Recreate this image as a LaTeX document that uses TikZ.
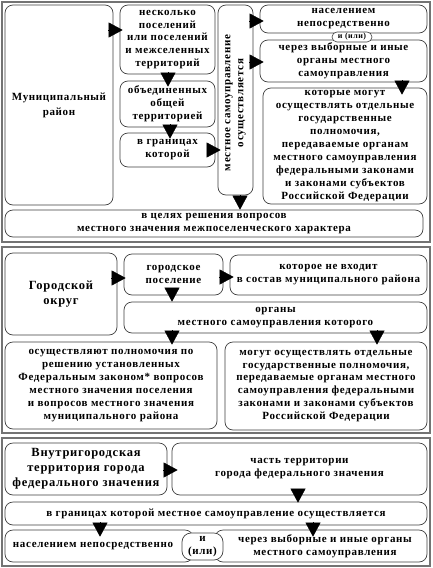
\documentclass[tikz,border=0pt]{standalone}
\usepackage{fontspec}
\setmainfont{Liberation Serif}[LetterSpace=6]
\usetikzlibrary{arrows.meta,calc}
\tikzset{
  box/.style={draw=black!75, line width=0.7pt, rounded corners=8pt, fill=white,
    inner sep=0pt, align=center, text=black,
    font=\fontsize{11}{12.9}\selectfont\bfseries},
  bigbox/.style={box, font=\fontsize{12.5}{15}\selectfont\bfseries},
  tinybox/.style={box, rounded corners=5pt, line width=0.6pt, font=\fontsize{8}{9.5}\selectfont\bfseries},
  panel/.style={draw=black!55, line width=1.2pt},
  tri/.style={-{Triangle[length=14pt,width=15pt]}, line width=0.4pt, black},
}
\begin{document}
\begin{tikzpicture}[x=1pt,y=-1pt]
\useasboundingbox (0,0) rectangle (432,568);
\fill[white] (0,0) rectangle (432,568);
% panels
\draw[panel] (2,2) rectangle (430,242);
\draw[panel] (2,247) rectangle (430,433);
\draw[panel] (2,438) rectangle (430,566);

% ---------- panel 1
\node[bigbox, font=\fontsize{11}{15}\selectfont\bfseries, minimum width=108, minimum height=200] (mr) at (59,105) {Муниципальный\\район};
\node[box, minimum width=95, minimum height=69] (n1) at (167.5,39.5) {несколько\\поселений\\или поселений\\и межселенных\\территорий};
\node[box, minimum width=95, minimum height=46] (n2) at (167.5,104) {объединенных\\общей\\территорией};
\node[box, minimum width=95, minimum height=34] (n3) at (167.5,150) {в границах\\которой};
\node[box, minimum width=35, minimum height=190] (v) at (235.5,100) {};
\node[font=\fontsize{11}{12.9}\selectfont\bfseries, align=center, rotate=90, inner sep=0pt, text=black] (vt) at ($(v.center)+(0,3)$) {местное самоуправление\\осуществляется};
\node[box, minimum width=167, minimum height=28] (p1) at (343.5,19) {населением\\непосредственно};
\node[box, minimum width=167, minimum height=42] (p2) at (343.5,61) {через выборные и иные\\органы местного\\самоуправления};
\node[tinybox, minimum width=40, minimum height=10] (ili) at (352,37) {и (или)};
\node[box, minimum width=164, minimum height=116] (p3) at (345,146) {которые могут\\осуществлять отдельные\\государственные\\полномочия,\\передаваемые органам\\местного самоуправления\\федеральными законами\\и законами субъектов\\Российской Федерации};
\node[box, minimum width=418, minimum height=27] (cel) at (214,223.5) {в целях решения вопросов\\местного значения межпоселенческого характера};

\draw[tri] ($(mr.east)+(-5,-75)$) -- ($(n1.west)+(3,-9.5)$);
\draw[tri] ($(n1.south)+(0.5,-2)$) -- ($(n2.north)+(0.5,6)$);
\draw[tri] ($(n2.south)+(2.5,-3)$) -- ($(n3.north)+(2.5,6)$);
\draw[tri] ($(n3.east)+(-8,0)$) -- ($(v.west)+(3,50)$);
\draw[tri] ($(v.east)+(-4,-79)$) -- ($(p1.west)+(4,2)$);
\draw[tri] ($(v.east)+(-4,-38)$) -- ($(p2.west)+(4,1)$);
\draw[tri] ($(p2.south)+(58.5,-2)$) -- ($(p3.north)+(57,7)$);
\draw[tri] ($(v.south)+(4.5,0)$) -- ($(cel.north)+(26,0)$);

% ---------- panel 2
\node[bigbox, minimum width=112, minimum height=82] (go) at (61,294) {Городской\\округ};
\node[box, minimum width=99, minimum height=41] (gp) at (173.5,274.5) {городское\\поселение};
\node[box, minimum width=197, minimum height=40] (kn) at (328.5,275) {которое не входит\\в состав муниципального района};
\node[box, minimum width=303, minimum height=31] (org) at (275.5,317.5) {органы\\местного самоуправления которого};
\node[box, minimum width=212, minimum height=87] (osu) at (111,385.5) {осуществляют полномочия по\\решению установленных\\Федеральным законом* вопросов\\местного значения поселения\\и вопросов местного значения\\муниципального района};
\node[box, minimum width=202, minimum height=88] (mog) at (326,386) {могут осуществлять отдельные\\государственные полномочия,\\передаваемые органам местного\\самоуправления федеральными\\законами и законами субъектов\\Российской Федерации};

\draw[tri] ($(go.east)+(-6,-16)$) -- ($(gp.west)+(2,3.5)$);
\draw[tri] ($(gp.south)+(-1.5,-7)$) -- ($(org.north)+(-103.5,0)$);
\draw[tri] ($(gp.east)+(-4,2.5)$) -- ($(kn.west)+(4,2)$);
\draw[tri] ($(org.south)+(-103.5,-3)$) -- ($(osu.north)+(61,3)$);
\draw[tri] ($(org.south)+(101.5,-3)$) -- ($(mog.north)+(51,3)$);

% ---------- panel 3
\node[bigbox, minimum width=162, minimum height=52] (vg) at (86,469) {Внутригородская\\территория города\\федерального значения};
\node[box, minimum width=255, minimum height=52] (ch) at (299.5,469) {часть территории\\города федерального значения};
\node[box, minimum width=422, minimum height=23] (gr) at (216,513.5) {в границах которой местное самоуправление осуществляется};
\node[box, minimum width=188, minimum height=32] (nas) at (99,546) {населением непосредственно\hspace*{12pt}};
\node[box, minimum width=212, minimum height=32] (cv) at (321,546) {\hspace*{8pt}через выборные и иные органы\\\hspace*{8pt}местного самоуправления};
\node[box, rounded corners=9pt, minimum width=41, minimum height=27] (ili2) at (202.5,546.5) {и\\(или)};

\draw[tri] ($(vg.east)+(-4,1)$) -- ($(ch.west)+(6,1)$);
\draw[tri] ($(ch.south)+(-1.5,-6)$) -- ($(gr.north)+(82,1)$);
\draw[tri] ($(gr.south)+(-116,-3)$) -- ($(nas.north)+(1,7)$);
\draw[tri] ($(gr.south)+(97,-3)$) -- ($(cv.north)+(-8,7)$);
\end{tikzpicture}
\end{document}
